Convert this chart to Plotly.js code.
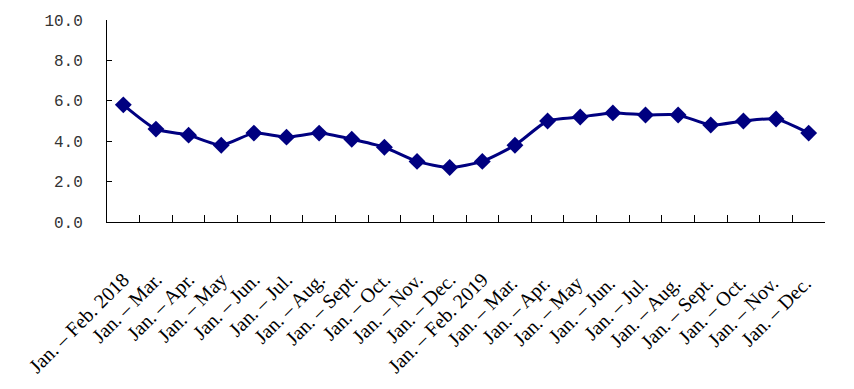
<!DOCTYPE html>
<html>
<head>
<meta charset="utf-8">
<script src="https://cdn.plot.ly/plotly-3.0.1.min.js"></script>
<style>html,body{margin:0;padding:0;background:#fff;}#chart{width:854px;height:389px;}</style>
</head>
<body>
<div id="chart"></div>
<script>
var categories = ["Jan. – Feb. 2018","Jan. – Mar.","Jan. – Apr.","Jan. – May","Jan. – Jun.","Jan. – Jul.","Jan. – Aug.","Jan. – Sept.","Jan. – Oct.","Jan. – Nov.","Jan. – Dec.","Jan. – Feb. 2019","Jan. – Mar. ","Jan. – Apr. ","Jan. – May ","Jan. – Jun. ","Jan. – Jul. ","Jan. – Aug. ","Jan. – Sept. ","Jan. – Oct. ","Jan. – Nov. ","Jan. – Dec. "];
var values = [5.8,4.6,4.3,3.8,4.4,4.2,4.4,4.1,3.7,3.0,2.7,3.0,3.8,5.0,5.2,5.4,5.3,5.3,4.8,5.0,5.1,4.4];
var yTicks = [0,2,4,6,8,10];
var yTickLabels = ["0.0","2.0","4.0","6.0","8.0","10.0"];

var trace = {
  x: categories, y: values, type: "scatter", mode: "lines+markers",
  line: {color: "#000080", width: 3, shape: "spline", smoothing: 0.6},
  marker: {symbol: "diamond", size: 13, color: "#000080"}
};
var layout = {
  width: 854, height: 389,
  margin: {l: 107, r: 29, t: 20, b: 167},
  paper_bgcolor: "#fff", plot_bgcolor: "#fff",
  showlegend: false,
  xaxis: {
    type: "category", range: [-0.5, 21.5], automargin: false,
    showline: true, linecolor: "#000", linewidth: 1,
    ticks: "inside", tickson: "boundaries", ticklen: 7, tickcolor: "#000",
    showgrid: false, zeroline: false,
    tickangle: -45, ticklabelstandoff: 37,
    tickfont: {family: "Liberation Serif, Times New Roman, serif", size: 20, color: "#000"}
  },
  yaxis: {
    range: [0, 10], tickvals: yTicks, ticktext: yTickLabels, automargin: false,
    showline: true, linecolor: "#000", linewidth: 1,
    ticks: "inside", ticklen: 5, tickcolor: "#000",
    showgrid: false, zeroline: false,
    ticklabelstandoff: 20,
    tickfont: {family: "Liberation Mono, Courier New, monospace", size: 16, color: "#333"}
  }
};
Plotly.newPlot("chart", [trace], layout, {displayModeBar: false, staticPlot: true});
</script>
</body>
</html>
